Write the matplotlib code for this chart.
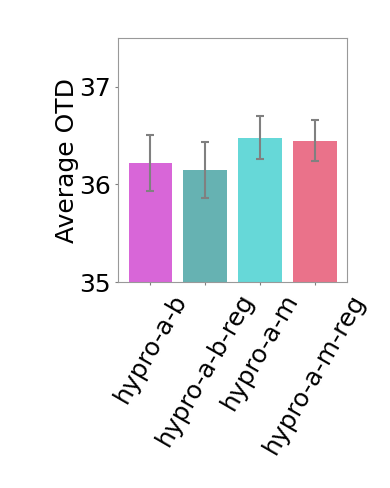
import matplotlib
matplotlib.use("Agg")
import matplotlib.pyplot as plt

# 数据
methods = ["hypro-a-b", "hypro-a-b-reg", "hypro-a-m", "hypro-a-m-reg"]
avg_otd = [36.22, 36.15, 36.48, 36.45]
otd_err = [0.29, 0.29, 0.22, 0.21]
bar_colors = ["m", "teal", "c", "crimson"]

fig = plt.figure(figsize=(3.9, 4.88), dpi=100)
ax = fig.add_axes([0.303, 0.422, 0.587, 0.500])

ax.bar(range(len(methods)), avg_otd, yerr=otd_err, color=bar_colors, alpha=0.6,
       capsize=3, error_kw=dict(ecolor="gray", elinewidth=1.5, capthick=1.5))

ax.set_ylim(35, 37.5)
ax.set_yticks([35, 36, 37])
ax.set_xticks(range(len(methods)))
ax.set_xticklabels(methods, rotation=60, fontsize=18)
ax.tick_params(axis="both", labelsize=18, length=2.5, color="gray", pad=3)
ax.set_ylabel("Average OTD", fontsize=18, labelpad=0)
for sp in ax.spines.values():
    sp.set_color("#999999")

plt.savefig("out.png", dpi=100)
